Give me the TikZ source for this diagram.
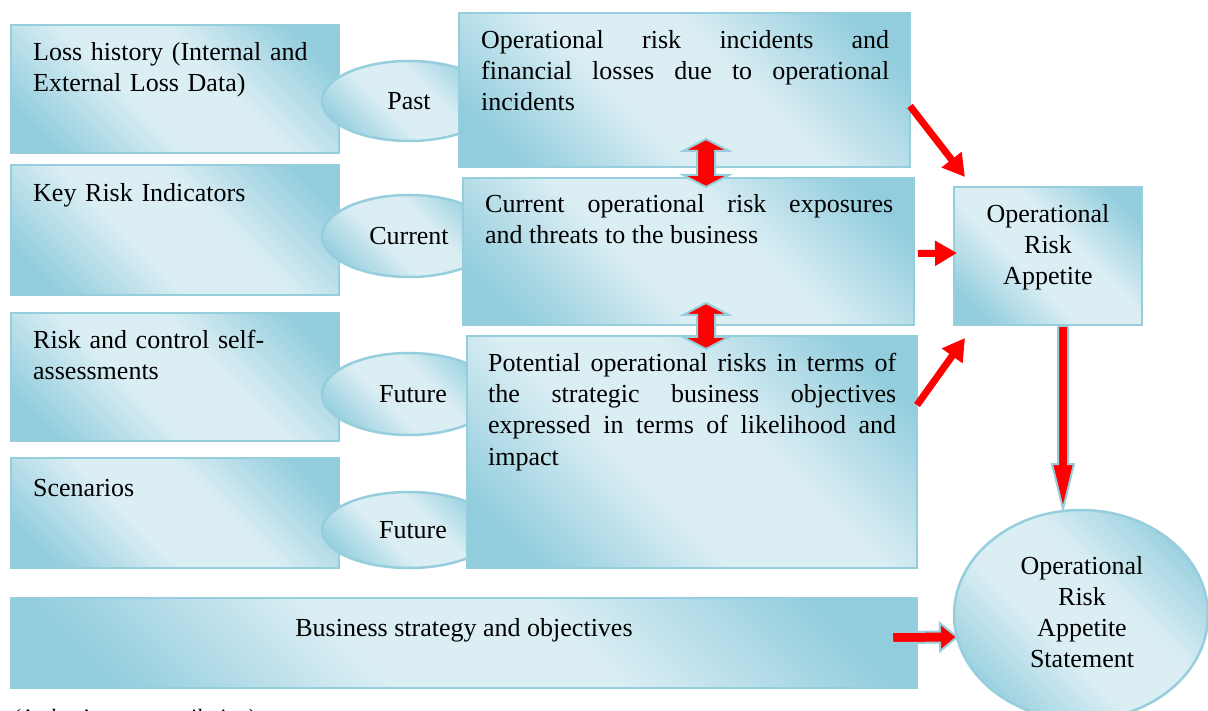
\documentclass[tikz,border=0pt]{standalone}
\usepackage{fontspec}
\setmainfont{Liberation Serif}
\usetikzlibrary{calc,arrows.meta,shapes.geometric}
\definecolor{bdark}{RGB}{146,205,221}
\definecolor{blight}{RGB}{219,238,244}
\definecolor{bline}{RGB}{150,206,221}
\pgfdeclarehorizontalshading{bluish}{100bp}{color(0bp)=(bdark); color(22bp)=(bdark); color(42bp)=(blight); color(58bp)=(blight); color(78bp)=(bdark); color(100bp)=(bdark)}
\newcommand\fatsingle[5]{%
  \path let \p1=(#1), \p2=(#2) in \pgfextra{%
    \pgfmathsetmacro\fatang{atan2(\y2-\y1,\x2-\x1)}%
    \pgfmathsetmacro\fatlen{veclen(\x2-\x1,\y2-\y1)}%
    \xdef\fatA{\fatang}\xdef\fatL{\fatlen}};
  \begin{scope}[shift={(#1)}, rotate=\fatA, x=1pt, y=1pt]
    \draw[fat] (0,-#3) -- (\fatL-#5,-#3) -- (\fatL-#5,-#4) -- (\fatL,0)
      -- (\fatL-#5,#4) -- (\fatL-#5,#3) -- (0,#3) -- cycle;
  \end{scope}}
\newcommand\fatdouble[5]{%
  \path let \p1=(#1), \p2=(#2) in \pgfextra{%
    \pgfmathsetmacro\fatang{atan2(\y2-\y1,\x2-\x1)}%
    \pgfmathsetmacro\fatlen{veclen(\x2-\x1,\y2-\y1)}%
    \xdef\fatA{\fatang}\xdef\fatL{\fatlen}};
  \begin{scope}[shift={(#1)}, rotate=\fatA, x=1pt, y=1pt]
    \draw[fat] (0,0) -- (#5,#4) -- (#5,#3) -- (\fatL-#5,#3) -- (\fatL-#5,#4)
      -- (\fatL,0) -- (\fatL-#5,-#4) -- (\fatL-#5,-#3) -- (#5,-#3) -- (#5,-#4) -- cycle;
  \end{scope}}
\begin{document}
\begin{tikzpicture}[x=1pt, y=-1pt,
  font=\fontsize{26}{31}\selectfont,
  box/.style={draw=bline, line width=2.5pt, shade, shading=bluish, shading angle=45,
    inner sep=0pt, outer sep=0pt},
  oval/.style={box, ellipse},
  txt/.style={inner sep=0pt, anchor=base west, text width=310pt, align=left},
  jtxt/.style={inner sep=0pt, anchor=base west, text width=408pt, align=justify},
  ctxt/.style={inner sep=0pt, anchor=base, text width=200pt, align=center},
  fat/.style={fill=red, draw=bline, line width=2pt, line join=miter},
  redarrow/.style={draw=red, line width=7pt, -{Triangle[length=22pt, width=24pt]}}]
\useasboundingbox (0,0) rectangle (1208,711);
\clip (0,0) rectangle (1208,711);

% left boxes
\node[box, minimum width=328pt, minimum height=128pt] (b1) at (175,89) {};
\node[box, minimum width=328pt, minimum height=130pt] (b2) at (175,230) {};
\node[box, minimum width=328pt, minimum height=128pt] (b3) at (175,377) {};
\node[box, minimum width=328pt, minimum height=110pt] (b4) at (175,513) {};
\node[txt] at ($(b1.north west)+(22,36)$) {Loss history (Internal and\\External Loss Data)};
\node[txt] at ($(b2.north west)+(22,37)$) {Key Risk Indicators};
\node[txt] at ($(b3.north west)+(22,36)$) {Risk and control self-\\assessments};
\node[txt] at ($(b4.north west)+(22,38)$) {Scenarios};

% ellipses
\node[oval, minimum width=174pt, minimum height=80pt] (e1) at (409,101) {Past};
\node[oval, minimum width=174pt, minimum height=82pt] (e2) at (409,236) {Current};
\node[oval, minimum width=174pt, minimum height=82pt] (e3) at (409,394) {\hspace{8pt}Future};
\node[oval, minimum width=174pt, minimum height=76pt] (e4) at (409,530) {\hspace{8pt}Future};

% right boxes
\node[box, minimum width=451pt, minimum height=154pt] (bA) at (684.5,90) {};
\node[box, minimum width=451pt, minimum height=147pt] (bB) at (688.5,251.5) {};
\node[box, minimum width=450pt, minimum height=232pt] (bC) at (692,452) {};
\node[jtxt] at ($(bA.north west)+(22,36)$) {\hyphenpenalty=10000 Operational risk incidents and\linebreak financial losses due to operational\linebreak incidents};
\node[jtxt] at ($(bB.north west)+(22,35)$) {\hyphenpenalty=10000 Current operational risk exposures\linebreak and threats to the business};
\node[jtxt] at ($(bC.north west)+(21,36)$) {\hyphenpenalty=10000 Potential operational risks in terms of\linebreak the strategic business objectives\linebreak expressed in terms of likelihood and\linebreak impact};

% appetite
\node[box, minimum width=188pt, minimum height=138pt] (ora) at (1048,256) {};
\node[ctxt] at ($(ora.north)+(0,36)$) {Operational\\Risk\\Appetite};

% statement
\node[oval, minimum width=254pt, minimum height=210pt] (stmt) at (1081,615) {};
\node[ctxt] at ($(stmt.north)+(1,64)$) {Operational\\Risk\\Appetite\\Statement};

% business strategy
\node[box, minimum width=906pt, minimum height=90pt] (biz) at (464,643) {};
\node[inner sep=0pt, anchor=base] at ($(biz.center)+(0,-7)$) {Business strategy and objectives};

% source line (cut off at bottom)
\node[inner sep=0pt, anchor=base west, font=\fontsize{22}{26}\selectfont\itshape] at (12,724) {(Author's own compilation)};

% fat arrows
\fatdouble{$(bA.south)+(21.5,-28)$}{$(bB.north)+(17.5,9)$}{9}{23}{12}
\fatdouble{$(bB.south)+(17.5,-22)$}{$(bC.north)+(14,13)$}{9}{23}{12}
\fatsingle{$(ora.south)+(15,1)$}{$(stmt.north)+(-18,-1)$}{5}{11}{45}
\fatsingle{$(biz.east)+(-25,-5.5)$}{$(stmt.west)+(3,22)$}{5.5}{14}{17}

% red arrows
\draw[redarrow] ($(bA.east)+(0,16)$) -- ($(ora.north west)+(11,-10)$);
\draw[redarrow] ($(bB.east)+(4,2)$) -- ($(ora.west)+(3,-3)$);
\draw[redarrow] ($(bC.east)+(0,-47)$) -- ($(ora.south west)+(11,13)$);
\end{tikzpicture}
\end{document}
